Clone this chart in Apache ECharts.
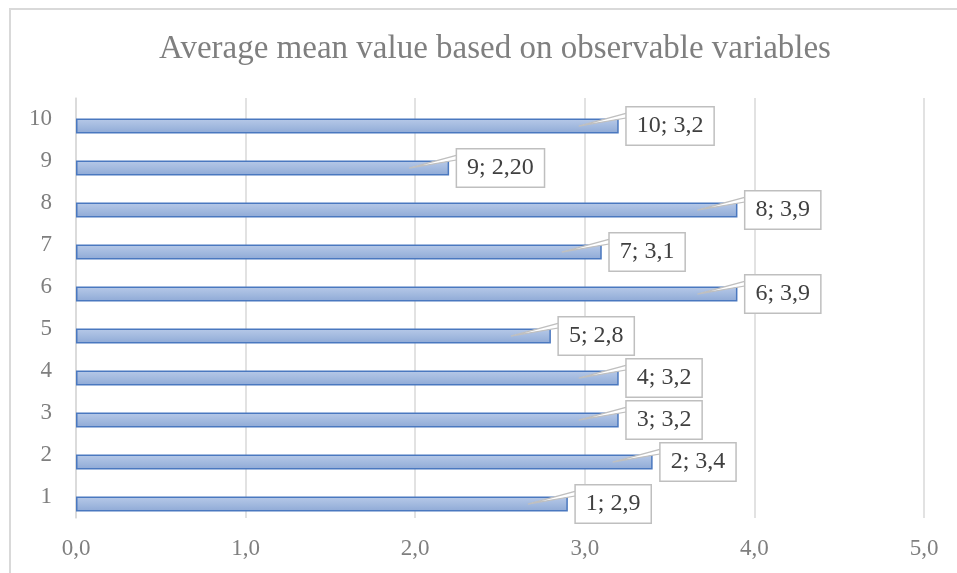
<!DOCTYPE html>
<html>
<head>
<meta charset="utf-8">
<script src="https://cdn.jsdelivr.net/npm/echarts@6/dist/echarts.min.js"></script>
<style>
  html, body { margin: 0; padding: 0; background: #ffffff; }
  #chart { width: 957px; height: 573px; }
</style>
</head>
<body>
<div id="chart"></div>
<script>
// Observable variables (category axis, bottom to top)
const categories = ['1', '2', '3', '4', '5', '6', '7', '8', '9', '10'];
// Average mean value per variable
const meanValues = [2.9, 3.4, 3.2, 3.2, 2.8, 3.9, 3.1, 3.9, 2.20, 3.2];
// Decimals shown in each data label
const labelDecimals = [1, 1, 1, 1, 1, 1, 1, 1, 2, 1];
// Value axis ticks
const xTicks = [0, 1, 2, 3, 4, 5];

const SERIF = '"Liberation Serif", "DejaVu Serif", serif';
const BAR_W = 15;
const BAR_GAP_PCT = -6;
// distance from band centre to the centre of the visible bar (second slot of two)
const BAR_SHIFT = (BAR_W + BAR_W * BAR_GAP_PCT / 100) / 2;

function fmt(v, d) {
  return v.toFixed(d).replace('.', ',');
}

const chart = echarts.init(document.getElementById('chart'), null, { renderer: 'canvas' });

chart.setOption({
  backgroundColor: '#ffffff',
  animation: false,
  title: {
    text: 'Average mean value based on observable variables',
    left: 490,
    top: 28,
    textAlign: 'center',
    textStyle: {
      fontFamily: SERIF,
      fontSize: 33,
      fontWeight: 'normal',
      color: '#7f7f7f'
    }
  },
  graphic: [{
    type: 'rect',
    silent: true,
    shape: { x: 10, y: 9, width: 1200, height: 1200 },
    style: { fill: 'none', stroke: '#d9d9d9', lineWidth: 2 }
  }],
  grid: { left: 76, right: 33, top: 98, bottom: 55, containLabel: false },
  xAxis: {
    type: 'value',
    min: xTicks[0],
    max: xTicks[xTicks.length - 1],
    interval: 1,
    axisLine: { show: false },
    axisTick: { show: false },
    splitLine: { show: true, lineStyle: { color: '#d9d9d9', width: 1.5 } },
    axisLabel: {
      margin: 19,
      fontFamily: SERIF,
      fontSize: 23,
      color: '#7f7f7f',
      formatter: v => fmt(v, 1)
    }
  },
  yAxis: {
    type: 'category',
    data: categories,
    axisLine: { show: true, lineStyle: { color: '#d9d9d9', width: 1.5 } },
    axisTick: { show: false },
    splitLine: { show: false },
    axisLabel: {
      margin: 24,
      fontFamily: SERIF,
      fontSize: 23,
      color: '#7f7f7f'
    }
  },
  series: [
    {
      // empty first slot of each band
      name: 'slot',
      type: 'bar',
      silent: true,
      barWidth: BAR_W,
      barGap: BAR_GAP_PCT + '%',
      data: categories.map(() => '-')
    },
    {
      name: 'Average mean value',
      type: 'bar',
      barWidth: BAR_W,
      barGap: BAR_GAP_PCT + '%',
      data: meanValues,
      itemStyle: {
        color: new echarts.graphic.LinearGradient(0, 0, 0, 1, [
          { offset: 0, color: '#b7c9e8' },
          { offset: 0.5, color: '#a3badf' },
          { offset: 1, color: '#8ea9d6' }
        ]),
        borderColor: '#4a78bf',
        borderWidth: 1.5
      }
    },
    {
      // callout labels
      name: 'labels',
      type: 'custom',
      coordinateSystem: 'cartesian2d',
      silent: true,
      z: 10,
      encode: { x: 0, y: 1 },
      data: meanValues.map((v, i) => [v, i]),
      renderItem: function (params, api) {
        const v = api.value(0);
        const idx = api.value(1);
        const end = api.coord([v, idx]);
        const cy = end[1] + BAR_SHIFT;
        const boxLeft = end[0] + 8;
        const boxTop = cy - 18.5;
        const tipX = end[0] - 40;
        const text = categories[idx] + '; ' + fmt(v, labelDecimals[idx]);
        return {
          type: 'group',
          children: [
            {
              type: 'polygon',
              shape: { points: [[tipX, cy], [boxLeft + 2, boxTop + 5], [boxLeft + 2, boxTop + 10]] },
              style: { fill: '#ffffff', stroke: '#bfbfbf', lineWidth: 1.2 }
            },
            {
              type: 'text',
              x: boxLeft,
              y: cy,
              style: {
                text: text,
                align: 'left',
                verticalAlign: 'middle',
                fontFamily: SERIF,
                fontSize: 24,
                fill: '#404040',
                backgroundColor: '#ffffff',
                borderColor: '#bfbfbf',
                borderWidth: 1.5,
                padding: [7, 10, 6, 10]
              }
            }
          ]
        };
      }
    }
  ]
});
</script>
</body>
</html>
